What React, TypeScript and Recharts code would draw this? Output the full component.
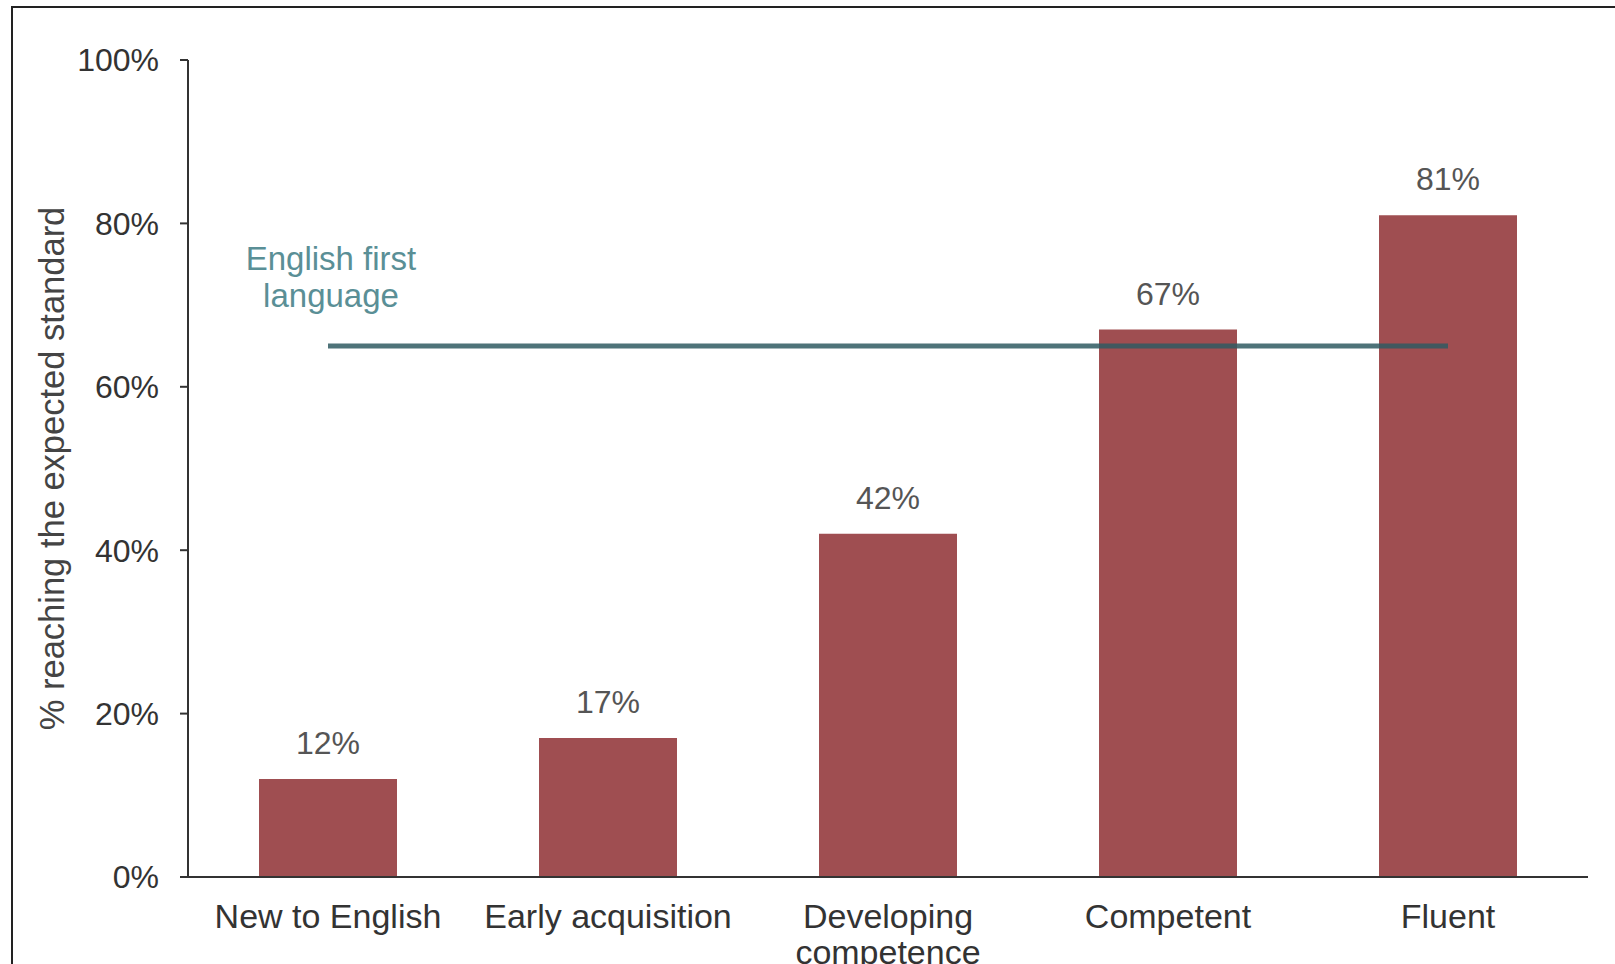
import { ComposedChart, Bar, Line, XAxis, YAxis, LabelList } from 'recharts';

const categories = ['New to English', 'Early acquisition', 'Developing competence', 'Competent', 'Fluent'];
const reachingPct = [12, 17, 42, 67, 81];
const englishFirstPct = [65, 65, 65, 65, 65];
const yTicks = [0, 20, 40, 60, 80, 100];
const refLabel = ['English first', 'language'];

const data = categories.map((name, i) => ({
  name,
  value: reachingPct[i],
  efl: englishFirstPct[i],
}));

const FONT = '"Liberation Sans", Arial, sans-serif';

function wrap(label: string, maxChars = 17): string[] {
  const words = label.split(' ');
  const lines: string[] = [];
  let cur = '';
  for (const w of words) {
    const next = cur ? cur + ' ' + w : w;
    if (next.length > maxChars && cur) {
      lines.push(cur);
      cur = w;
    } else {
      cur = next;
    }
  }
  if (cur) lines.push(cur);
  return lines;
}

function XTick(props: any) {
  const { x, y, payload } = props;
  const lines = wrap(String(payload.value));
  return (
    <text x={x} y={y} textAnchor="middle" fill="#333" fontSize={34} fontFamily={FONT}>
      {lines.map((l, i) => (
        <tspan key={i} x={x} dy={i === 0 ? '0.71em' : 36}>
          {l}
        </tspan>
      ))}
    </text>
  );
}

function EflLabel(props: any) {
  const { x, y, index } = props;
  if (index !== 0) return null;
  return (
    <text x={x + 3} y={y} textAnchor="middle" fill="#5a8f96" fontSize={33} fontFamily={FONT}>
      <tspan x={x + 3} dy={-76}>{refLabel[0]}</tspan>
      <tspan x={x + 3} dy={37}>{refLabel[1]}</tspan>
    </text>
  );
}

export default function App() {
  return (
    <div
      style={{
        position: 'absolute',
        left: 0,
        top: 0,
        width: 1615,
        height: 964,
        overflow: 'hidden',
        background: '#fff',
      }}
    >
      <div
        style={{
          position: 'absolute',
          left: 11,
          top: 6,
          width: 1700,
          height: 1100,
          borderLeft: '2px solid #222',
          borderTop: '2px solid #222',
        }}
      />
      <div style={{ position: 'absolute', left: 0, top: 0 }}>
        <ComposedChart
          width={1615}
          height={1010}
          data={data}
          margin={{ top: 60, right: 27, bottom: 20, left: 0 }}
        >
          <XAxis
            dataKey="name"
            height={113}
            interval={0}
            tickLine={false}
            tickSize={0}
            tickMargin={27}
            stroke="#333"
            strokeWidth={2}
            tick={<XTick />}
          />
          <YAxis
            width={188}
            domain={[0, 100]}
            ticks={yTicks}
            tickFormatter={(v: number) => v + '%'}
            tickSize={8}
            tickMargin={21}
            stroke="#333"
            strokeWidth={2}
            tick={{ fill: '#333', fontSize: 32, fontFamily: FONT }}
            label={{
              value: '% reaching the expected standard',
              angle: -90,
              position: 'center',
              dx: -42,
              fill: '#444',
              fontSize: 34.5,
              fontFamily: FONT,
            }}
          />
          <Bar dataKey="value" fill="#9f4e51" barSize={138} isAnimationActive={false}>
            <LabelList
              dataKey="value"
              position="top"
              offset={25}
              formatter={(v: any) => v + '%'}
              fill="#555"
              fontSize={32}
              fontFamily={FONT}
            />
          </Bar>
          <Line
            dataKey="efl"
            type="linear"
            stroke="#2f5a62"
            strokeOpacity={0.85}
            strokeWidth={5}
            dot={false}
            activeDot={false}
            isAnimationActive={false}
          >
            <LabelList dataKey="efl" content={<EflLabel />} />
          </Line>
        </ComposedChart>
      </div>
    </div>
  );
}
